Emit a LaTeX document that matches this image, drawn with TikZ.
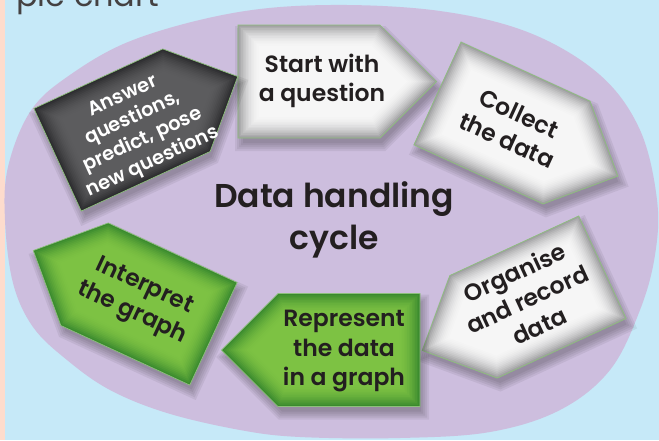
\documentclass[tikz,border=0pt]{standalone}
\usepackage{fontspec}
\setmainfont{Poppins}[BoldFont={Poppins SemiBold}]
\definecolor{bgblue}{HTML}{C6E9F8}
\definecolor{peach}{HTML}{FDDCCD}
\definecolor{ellpurple}{HTML}{CDBEDE}
\definecolor{silveredge}{HTML}{A0A0A2}
\definecolor{silvermid}{HTML}{F6F6F6}
\definecolor{greenedge}{HTML}{3A8A2E}
\definecolor{greenmid}{HTML}{7DC243}
\definecolor{darkedge}{HTML}{2C2C2E}
\definecolor{darkmid}{HTML}{5C5C5E}
\definecolor{boxline}{HTML}{8DBF7C}
\definecolor{ink}{HTML}{231F20}
\newcommand{\pentpath}[1]{(-71+#1,56.5-#1) -- (71-0.414*#1,56.5-#1) -- (127.5-1.414*#1,0) -- (71-0.414*#1,-56.5+#1) -- (-71+#1,-56.5+#1) -- cycle}
\newcommand{\glowbox}[5]{%
  \begin{scope}[shift={(#1+3,#2+7)}, rotate=#3]
    \foreach \k in {-6,-4,-2,0,2} {\fill[black, opacity=0.06] \pentpath{\k};}
  \end{scope}
  \begin{scope}[shift={(#1,#2)}, rotate=#3]
    \fill[#4] \pentpath{0};
    \foreach \i in {1,...,14} {
      \pgfmathsetmacro\dd{\i*1.6}
      \pgfmathsetmacro\pp{100*(1-(1-\i/14)^2)}
      \fill[#5!\pp!#4] \pentpath{\dd};
    }
    \draw[edgeline] \pentpath{0};
  \end{scope}}
\tikzset{
  boxtext/.style={align=center, text=ink, font=\bfseries\fontsize{23.5}{29.5}\selectfont, inner sep=0pt},
  smalltext/.style={boxtext, text=white, font=\bfseries\fontsize{19.5}{24}\selectfont},
  titletext/.style={align=center, text=ink, font=\bfseries\fontsize{33}{42}\selectfont, inner sep=0pt},
  edgeline/.style={draw=boxline, line width=0.7pt},
}
\begin{document}
\begin{tikzpicture}[x=1pt,y=-1pt]
\useasboundingbox (0,0) rectangle (659,440);
\clip (0,0) rectangle (659,440);
\fill[bgblue] (0,0) rectangle (659,440);
\fill[peach] (0,0) rectangle (5,440);
\node[anchor=base west, inner sep=0pt, text=ink!85, font=\fontsize{32}{36}\selectfont] (piechart) at (16,6) {pie chart};
\fill[ellpurple] plot[smooth cycle, tension=0.6] coordinates {(330,5) (440,11) (530,33) (600,75) (640,130) (657,200) (655,255) (640,310) (610,370) (560,410) (490,432) (400,438) (300,437) (240,430) (167,413) (110,390) (67,360) (33,327) (13,283) (5,220) (8,167) (30,112) (67,77) (133,40) (233,13)};
% boxes
\glowbox{309}{81.5}{0}{silveredge}{silvermid}
\glowbox{502}{123}{-24.6}{silveredge}{silvermid}
\glowbox{538}{297}{204.8}{silveredge}{silvermid}
\glowbox{349}{350}{180}{greenedge}{greenmid}
\glowbox{149}{304}{155.2}{greenedge}{greenmid}
\glowbox{122}{130}{24.8}{darkedge}{darkmid}
% texts
\node[boxtext] (start) at (322,81) {Start with\\a question};
\node[boxtext, rotate=-24.6] (collect) at (513,127) {Collect\\the data};
\node[boxtext, rotate=24.8] (organise) at (527,299) {Organise\\and record\\data};
\node[boxtext] (represent) at (344,351) {Represent\\the data\\in a graph};
\node[boxtext, rotate=-24.8] (interpret) at (138,300) {Interpret\\the graph};
\node[smalltext, rotate=24.8] (answer) at (138,130) {Answer\\questions,\\predict, pose\\new questions};
\node[titletext] (title) at (334,220) {Data handling\\cycle};
\end{tikzpicture}
\end{document}
